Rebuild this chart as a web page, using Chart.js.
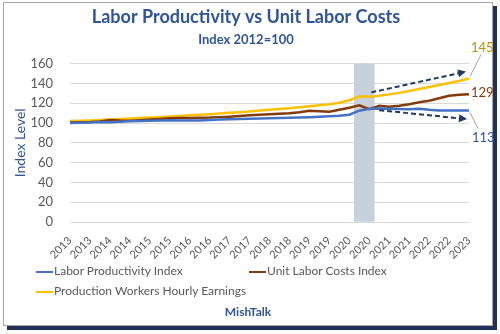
<!DOCTYPE html>
<html>
<head>
<meta charset="utf-8">
<script src="https://cdn.jsdelivr.net/npm/chart.js@4"></script>
<style>
  body { margin: 0; background: #fff; }
  #wrap { position: relative; width: 500px; height: 334px; overflow: hidden; font-family: Lato, sans-serif; }
  #frame { position: absolute; left: 3px; top: 2px; width: 488px; height: 322px; border: 1px solid #a6a6a6; box-shadow: 4px 4px 0 #1f3059; background: #fff; }
  canvas { position: absolute; left: 0; top: 0; }
  .leg { position: absolute; font-size: 12px; color: #595959; white-space: nowrap; line-height: 16px; }
  .leg i { display: inline-block; width: 17px; height: 2px; vertical-align: middle; margin-right: 1px; }
  #src { position: absolute; left: 0; width: 496px; top: 304px; text-align: center; font-weight: bold; font-size: 12px; color: #2f5597; }
</style>
</head>
<body>
<div id="wrap">
  <div id="frame"></div>
  <canvas id="chart" width="500" height="334"></canvas>
  <div class="leg" style="left:36px;top:263px"><i style="background:#4472c4"></i>Labor Productivity Index</div>
  <div class="leg" style="left:249px;top:263px"><i style="background:#843c0c"></i>Unit Labor Costs Index</div>
  <div class="leg" style="left:36px;top:283px"><i style="background:#ffc000"></i>Production Workers Hourly Earnings</div>
  <div id="src">MishTalk</div>
</div>
<script>
// quarterly, 2013 Q1 .. 2023 Q1
const quarters = [
  '2013 Q1', '2013 Q2', '2013 Q3', '2013 Q4', '2014 Q1', '2014 Q2', '2014 Q3', '2014 Q4',
  '2015 Q1', '2015 Q2', '2015 Q3', '2015 Q4', '2016 Q1', '2016 Q2', '2016 Q3', '2016 Q4',
  '2017 Q1', '2017 Q2', '2017 Q3', '2017 Q4', '2018 Q1', '2018 Q2', '2018 Q3', '2018 Q4',
  '2019 Q1', '2019 Q2', '2019 Q3', '2019 Q4', '2020 Q1', '2020 Q2', '2020 Q3', '2020 Q4',
  '2021 Q1', '2021 Q2', '2021 Q3', '2021 Q4', '2022 Q1', '2022 Q2', '2022 Q3', '2022 Q4',
  '2023 Q1'
];

const productivity = [
  100, 100.2, 100.5, 101, 100.8, 101.3, 101.8, 102, 102.3, 102.5,
  102.8, 102.6, 102.5, 102.6, 103, 103.5, 103.8, 104, 104.3, 104.5,
  104.8, 105, 105.3, 105.6, 106, 106.5, 107, 107.5, 108.4, 112.5,
  114.5, 114.8, 114.5, 114.3, 114, 114.5, 113.5, 112.8, 112.6, 112.8,
  112.7
];

const unitLaborCosts = [
  100.5, 100.8, 101, 101.5, 103, 102.5, 102.3, 102.8, 103.5, 104.2,
  104.8, 105, 105.2, 105.3, 105.5, 106, 106.5, 107.2, 107.8, 108.3,
  108.8, 109.3, 110, 111, 112.5, 112, 111.5, 113.5, 115.5, 118,
  114, 117.5, 116.5, 117.5, 119, 121, 122.5, 125, 127.5, 128.5,
  129
];

const hourlyEarnings = [
  102, 102.3, 102.6, 103, 103.5, 104, 104.5, 105, 105.5, 106,
  106.6, 107.2, 107.8, 108.4, 109, 109.6, 110.3, 111, 111.8, 112.6,
  113.4, 114.2, 115, 116, 117, 118, 119, 120.5, 123, 127,
  126.7, 127.5, 129, 130.5, 132.5, 134.5, 136.5, 138.5, 140.5, 142.5,
  145
];

// recession shading
const recession = [
  null, null, null, null, null, null, null, null, null, null,
  null, null, null, null, null, null, null, null, null, null,
  null, null, null, null, null, null, null, null, null, 160,
  160, null, null, null, null, null, null, null, null, null,
  null
];

// dashed trend arrows: [quarter index, value]
const upArrow = [[30.2, 131], [39.7, 152]];
const downArrow = [[31, 113], [39.8, 104]];

Chart.defaults.font.family = 'Lato, sans-serif';

const overlay = {
  id: 'overlay',
  afterDatasetsDraw(chart) {
    const { ctx, scales: { x, y } } = chart;
    ctx.save();

    const drawArrow = (pts) => {
      const x1 = x.getPixelForValue(pts[0][0]), y1 = y.getPixelForValue(pts[0][1]);
      const x2 = x.getPixelForValue(pts[1][0]), y2 = y.getPixelForValue(pts[1][1]);
      const a = Math.atan2(y2 - y1, x2 - x1);
      ctx.strokeStyle = '#1f3864';
      ctx.fillStyle = '#1f3864';
      ctx.lineWidth = 2;
      ctx.setLineDash([5, 3]);
      ctx.beginPath();
      ctx.moveTo(x1, y1);
      ctx.lineTo(x2 - 6 * Math.cos(a), y2 - 6 * Math.sin(a));
      ctx.stroke();
      ctx.setLineDash([]);
      ctx.beginPath();
      ctx.moveTo(x2, y2);
      ctx.lineTo(x2 - 8 * Math.cos(a) + 4 * Math.sin(a), y2 - 8 * Math.sin(a) - 4 * Math.cos(a));
      ctx.lineTo(x2 - 8 * Math.cos(a) - 4 * Math.sin(a), y2 - 8 * Math.sin(a) + 4 * Math.cos(a));
      ctx.closePath();
      ctx.fill();
    };
    drawArrow(upArrow);
    drawArrow(downArrow);

    // end labels
    const last = quarters.length - 1;
    const px = x.getPixelForValue(last);
    ctx.font = '13px Lato, sans-serif';
    ctx.textBaseline = 'middle';
    ctx.textAlign = 'left';
    ctx.lineWidth = 1;
    ctx.strokeStyle = '#a6a6a6';

    let py = y.getPixelForValue(hourlyEarnings[last]);
    ctx.beginPath(); ctx.moveTo(px + 1, py - 2); ctx.lineTo(px + 12, py - 24); ctx.stroke();
    ctx.fillStyle = '#bf9000';
    ctx.fillText(Math.round(hourlyEarnings[last]), px + 2, py - 31);

    py = y.getPixelForValue(unitLaborCosts[last]);
    ctx.fillStyle = '#843c0c';
    ctx.fillText(Math.round(unitLaborCosts[last]), px + 2, py - 2);

    py = y.getPixelForValue(productivity[last]);
    ctx.beginPath(); ctx.moveTo(px + 1, py + 2); ctx.lineTo(px + 9, py + 18); ctx.stroke();
    ctx.fillStyle = '#2f5597';
    ctx.fillText(Math.round(productivity[last]), px + 3, py + 27);

    ctx.restore();
  }
};

new Chart(document.getElementById('chart'), {
  data: {
    labels: quarters,
    datasets: [
      { type: 'line', label: 'Labor Productivity Index', data: productivity,
        borderColor: '#4472c4', borderWidth: 2.5, pointRadius: 0, tension: 0, order: 1 },
      { type: 'line', label: 'Unit Labor Costs Index', data: unitLaborCosts,
        borderColor: '#843c0c', borderWidth: 2.5, pointRadius: 0, tension: 0, order: 2 },
      { type: 'line', label: 'Production Workers Hourly Earnings', data: hourlyEarnings,
        borderColor: '#ffc000', borderWidth: 2.5, pointRadius: 0, tension: 0, order: 3 },
      { type: 'bar', label: 'Recession', data: recession,
        backgroundColor: '#c8d0da', barPercentage: 1, categoryPercentage: 1, order: 10 }
    ]
  },
  options: {
    responsive: false,
    animation: false,
    layout: { padding: { left: 23, right: 31, top: 6, bottom: 72 } },
    plugins: {
      legend: { display: false },
      tooltip: { enabled: false },
      title: {
        display: true,
        text: 'Labor Productivity vs Unit Labor Costs',
        color: '#2f5597',
        font: { size: 18, weight: 'bold' },
        padding: { top: 0, bottom: 4.5 }
      },
      subtitle: {
        display: true,
        text: 'Index 2012=100',
        color: '#2f5597',
        font: { size: 13, weight: 'bold' },
        padding: { top: 0, bottom: 16 }
      }
    },
    scales: {
      x: {
        offset: false,
        grid: { display: false },
        border: { color: '#d9d9d9' },
        ticks: {
          autoSkip: false,
          minRotation: 45,
          maxRotation: 45,
          padding: 4,
          color: '#595959',
          font: { size: 11 },
          callback: (v, i) => (i % 2 === 0 ? quarters[i].slice(0, 4) : '')
        },
        afterFit: (s) => { s.height = 40; }
      },
      y: {
        min: 0,
        max: 160,
        grid: { color: '#d9d9d9', drawTicks: false },
        border: { display: false },
        ticks: { stepSize: 20, padding: 17, color: '#595959', font: { size: 13 } },
        title: { display: true, text: 'Index Level', color: '#2f5597', font: { size: 14 }, padding: { top: -11.4, bottom: 0 } },
        afterFit: (s) => { s.width = 47; }
      }
    }
  },
  plugins: [overlay]
});
</script>
</body>
</html>
